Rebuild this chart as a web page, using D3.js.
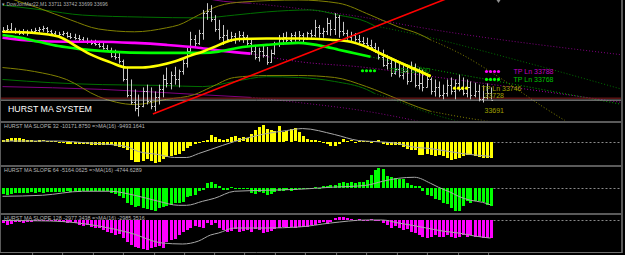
<!DOCTYPE html>
<html>
<head>
<meta charset="utf-8">
<script src="https://cdn.jsdelivr.net/npm/d3@7"></script>
<style>
body { margin: 0; background: #000; }
svg { display: block; }
</style>
</head>
<body>
<svg></svg>
<script>
const width = 625
const height = 255

// price bars (one per minute)
const highs = [33900,33905,33910,33898,33893,33895,33893,33895,33898,33900,
    33903,33900,33893,33890,33888,33890,33888,33885,33883,33880,
    33875,33873,33868,33868,33865,33860,33855,33848,33843,33838,
    33818,33800,33768,33743,33730,33748,33755,33748,33738,33755,
    33780,33798,33788,33800,33793,33818,33848,33888,33880,33893,
    33943,33960,33955,33930,33918,33905,33893,33888,33885,33890,
    33888,33880,33868,33855,33848,33855,33850,33843,33863,33880,
    33885,33888,33885,33888,33890,33885,33888,33893,33918,33905,
    33898,33923,33918,33935,33930,33913,33893,33888,33885,33880,
    33875,33873,33868,33860,33850,33843,33830,33823,33818,33813,
    33810,33805,33813,33808,33798,33793,33780,33773,33768,33763,
    33755,33768,33773,33768,33780,33773,33768,33763,33760,33755,
    33753,33758,33748]
const lows = [33885,33885,33885,33883,33880,33880,33878,33883,33885,33885,
    33888,33885,33880,33875,33875,33878,33873,33870,33868,33865,
    33863,33858,33855,33853,33848,33843,33838,33823,33818,33808,
    33763,33723,33705,33688,33675,33698,33705,33693,33688,33705,
    33723,33748,33743,33755,33748,33780,33798,33838,33848,33855,
    33868,33918,33913,33888,33868,33855,33863,33863,33858,33863,
    33860,33853,33830,33818,33813,33823,33805,33810,33830,33850,
    33855,33860,33858,33863,33865,33860,33868,33873,33875,33873,
    33873,33880,33878,33880,33873,33878,33868,33863,33863,33858,
    33853,33848,33843,33835,33818,33800,33793,33775,33780,33773,
    33768,33755,33763,33748,33743,33738,33748,33730,33725,33723,
    33718,33725,33730,33718,33738,33728,33723,33718,33723,33713,
    33710,33718,33718]
const closes = [33892,33895,33890,33888,33885,33887,33884,33890,33893,33895,
    33897,33890,33885,33880,33882,33884,33878,33876,33872,33870,
    33866,33862,33860,33857,33852,33848,33842,33828,33825,33815,
    33770,33730,33712,33695,33700,33740,33715,33700,33725,33745,
    33770,33760,33780,33770,33790,33810,33840,33870,33860,33885,
    33935,33940,33920,33895,33875,33880,33870,33878,33870,33880,
    33875,33860,33840,33825,33840,33830,33812,33835,33860,33870,
    33875,33868,33880,33872,33880,33870,33885,33880,33900,33885,
    33890,33910,33895,33925,33890,33885,33875,33880,33870,33865,
    33860,33855,33850,33840,33825,33805,33810,33785,33795,33780,
    33790,33765,33800,33755,33760,33750,33770,33740,33750,33730,
    33735,33755,33740,33760,33745,33735,33750,33728,33740,33720,
    33725,33735,33716]
const firstOpen = 33890

// Hurst moving averages on the price chart: [bar, price]
const yellowMa = [[0,33888],[8,33885],[14,33876],[19,33848],[22,33831],[27,33811],[31,33798],[35,33798],
    [39,33803],[43,33813],[47,33828],[50,33838],[53,33850],[56,33863],[59,33870],[66,33871],[74,33871],
    [82,33868],[87,33863],[91,33850],[96,33826],[101,33803],[104,33790],[107,33776]]
const greenMa = [[0,33880],[4,33874],[9,33863],[14,33852],[19,33845],[27,33838],[37,33835],[45,33835],
    [50,33835],[54,33838],[59,33848],[66,33855],[74,33860],[81,33850],[84,33843],[88,33834],[92,33825]]
const magentaMa = [[0,33873],[8,33865],[16,33863],[24,33863],[33,33860],[41,33855],[49,33848],[55,33840],[62,33833]]
const magentaMaProj = [[62,33833],[74,33813],[91,33798],[104,33780],[130,33745],[155,33710]]
const greenMaProj = [[92,33825],[104,33800],[130,33752],[155,33705]]

// envelope bands: [bar, price], solid part then projected (dotted) part
const oliveUp = [[0,33980],[3,33968],[9,33948],[17,33918],[24,33895],[33,33888],[41,33898],[44,33905],
    [49,33930],[54,33953],[60,33963],[74,33968],[84,33960],[92,33930],[99,33900],[104,33883],[107,33868]]
const oliveUpProj = [[107,33868],[115,33830],[125,33768],[135,33700],[145,33638]]
const oliveDn = [[0,33798],[8,33788],[16,33768],[24,33725],[33,33705],[41,33718],[48,33730],[52,33748],
    [58,33773],[66,33778],[74,33778],[83,33773],[91,33750],[99,33718],[104,33698],[107,33688]]
const oliveDnProj = [[107,33688],[120,33665],[130,33653]]
const greenUp = [[0,33955],[10,33943],[20,33930],[35,33925],[50,33923],[58,33930],[66,33938],[77,33943],
    [84,33930],[91,33913],[93,33903]]
const greenUpProj = [[93,33903],[104,33880],[130,33813],[155,33743]]
const greenDn = [[0,33768],[12,33760],[25,33755],[40,33753],[50,33750],[58,33763],[66,33775],[74,33773],
    [83,33763],[91,33743],[93,33733]]
const greenDnProj = [[93,33733],[99,33713],[104,33693],[117,33655]]
const purpleUp = [[45,33988],[53,33968],[62,33960]]
const purpleUpProj = [[62,33960],[77,33943],[90,33925],[102,33903],[155,33830]]
const purpleDn = [[0,33750],[25,33743],[49,33730],[62,33723]]
const purpleDnProj = [[62,33723],[74,33710],[91,33688],[104,33663]]

// trend line and price lines
const trendLine = [[37.6,33681],[115,33987]]
const askPrice = 33721
const bidPrice = 33716

// take profit markers
const tpPrices = [33788, 33768, 33746, 33790]
const tpBars = [[121,122,123,124],[121,122,123,124],[113,114,115,116],[90,91,92,93]]
const tpTexts = ["TP Ln 33788", "TP Ln 33768", "TP Ln 33746", "TP Sh 33790"]
const levelPrices = [33728, 33691]

// Hurst MA slope histograms (one value per bar) and their MA(16)
const slope32 = [1280,1920,1950,2560,2500,1900,1300,1250,640,1200,
    700,650,600,320,-640,-600,-1280,-1250,-1300,-1200,
    -1280,-1350,-1900,-1920,-2000,-1900,-1950,-2100,-2560,-3200,
    -3850,-5100,-11500,-12800,-12900,-12200,-10900,-12100,-13400,-12800,
    -10900,-9600,-9000,-8300,-7700,-5800,-3800,-2600,-1300,-640,
    640,1300,4500,3200,1900,1300,1900,3200,3250,2560,
    2600,2500,5100,7700,9600,10900,8300,7700,7000,10200,
    6400,6500,8300,8400,6400,3850,1900,1300,1250,640,
    -640,-1300,-2560,-2600,-1280,1900,640,700,-640,600,
    650,320,-640,640,1280,-1300,-1900,-1950,-1900,-2000,
    -3200,-4500,-5100,-5200,-8300,-8400,-7700,-8300,-9000,-8300,
    -9000,-10200,-11500,-10900,-10200,-9000,-8300,-8400,-9000,-9600,
    -10200,-10300,-10171.875]
const slope32Ma = [[0,320],[14,320],[20,-640],[27,-1900],[31,-3200],[34,-6400],[39,-8300],[43,-10200],
    [46,-10200],[49,-7700],[52,-5100],[58,0],[66,5100],[71,7000],[75,8300],[83,4500],[89,640],[93,0],
    [99,-1300],[102,-3200],[107,-4500],[115,-7700],[122,-9493.1641]]

const slope64 = [-1720,-2010,-1720,-1430,-1440,-1430,-1450,-1150,-1430,-1150,
    -1440,-1150,-1140,-1150,-1160,-1150,-860,-1150,-860,-1150,
    -860,-870,-860,-850,-860,-870,-860,-1430,-1720,-2300,
    -2870,-4300,-4880,-5450,-5170,-5740,-6030,-6310,-6600,-5740,
    -5450,-5170,-4880,-4300,-4310,-4020,-2580,-2300,-2010,-860,
    -570,1430,1720,1150,570,-570,-580,290,-290,-280,
    -290,-300,-1430,-1720,-1150,-1430,-2010,-1720,-1150,-860,
    -870,-570,-860,-580,-290,140,-140,150,290,-290,
    570,580,860,870,1430,1720,1440,1720,1430,1720,
    1730,2300,3730,5160,5740,5450,3440,3160,2870,2580,
    2580,1430,860,570,580,-860,-2010,-2300,-3160,-3440,
    -4300,-4590,-5740,-6600,-6590,-5160,-3730,-4300,-3730,-3740,
    -4020,-4880,-5164.0625]
const slope64Ma = [[0,-2300],[10,-2000],[20,-860],[27,-860],[33,-2000],[39,-3730],[44,-4880],[46,-4880],
    [50,-3730],[53,-2870],[58,-860],[66,-570],[74,-290],[82,290],[91,860],[95,2000],[99,2870],[103,3160],
    [107,1430],[109,290],[112,-1150],[114,-2300],[117,-3440],[120,-4020],[122,-4744.6289]]

const slope128 = [-500,-830,-660,-330,-340,-500,-330,-320,-170,-160,
    -170,-165,-170,-160,-330,-340,-500,-330,-490,-830,
    -990,-820,-1150,-1320,-1330,-1650,-1980,-2150,-2480,-2310,
    -2970,-3630,-4130,-4460,-4620,-4790,-4950,-4620,-4460,-4290,
    -4620,-3630,-3300,-3140,-2480,-1980,-1650,-1320,-990,-1150,
    -1320,-500,-830,-500,-1320,-1650,-1980,-1820,-1490,-1980,
    -1820,-1650,-1980,-1490,-1650,-2150,-1980,-1820,-1490,-1320,
    -1150,-1320,-1160,-1320,-1150,-1160,-1150,-830,-820,-500,
    -330,-660,-330,330,500,490,330,170,-170,160,
    80,-165,165,80,-170,-500,-830,-1320,-990,-1320,
    -1650,-1490,-1980,-2150,-2480,-2810,-2970,-2800,-2480,-2810,
    -2800,-2480,-2810,-2970,-2810,-2480,-2800,-2470,-2810,-2800,
    -2960,-2980,-2977.3438]
const slope128Ma = [[0,-80],[12,-165],[24,-990],[32,-2150],[40,-3800],[45,-3960],[49,-3470],[52,-2480],
    [54,-2150],[58,-1320],[66,-1320],[74,-1160],[82,-500],[91,0],[95,0],[99,-500],[102,-830],[106,-1320],
    [110,-1820],[114,-2150],[118,-2640],[122,-2985.3516]]

const panelTitles = [
    "HURST MA SLOPE 32 -10171.8750  =>MA(16) -9493.1641",
    "HURST MA SLOPE 64 -5164.0625  =>MA(16) -4744.6289",
    "HURST MA SLOPE 128 -2977.3438  =>MA(16) -2985.3516"]
const chartTitle = "DowJonMar22,M1  33711 33742 33699 33696"

// time axis ticks (bar positions)
const timeTicks = [7.4,14.9,22.6,30.1,37.9,45.4,52.9,60.4,68.1,75.6,83.4,90.9,98.6,106.1,113.9,121.4]

const font = "'Liberation Sans', Arial, sans-serif"
const right = 621

const svg = d3.select("svg")
    .attr("width", width)
    .attr("height", height)
    .style("background", "#000")

// Scales
const x = d3.scaleLinear().domain([0, 122]).range([2.5, 490.5])
const yMain = d3.scaleLinear().domain([33666, 33968]).range([120, 0])
const y32 = d3.scaleLinear().domain([-15000, 12500]).range([165, 122])
const y64 = d3.scaleLinear().domain([-6800, 6100]).range([212, 167])
const y128 = d3.scaleLinear().domain([-5115, 825]).range([251, 215])

const defs = svg.append("defs")
const clip = (id, y0, y1) => {
    defs.append("clipPath").attr("id", id)
        .append("rect").attr("x", 0).attr("y", y0).attr("width", right).attr("height", y1 - y0)
    return svg.append("g").attr("clip-path", `url(#${id})`)
}

// ---------- main price panel ----------
const main = clip("cMain", 0, 120.5)

const line = (ys) => d3.line().x(d => x(d[0])).y(d => ys(d[1])).curve(d3.curveMonotoneX)

const band = (data, color, w, dash) => {
    main.append("path").datum(data)
        .attr("d", line(yMain))
        .attr("fill", "none")
        .attr("stroke", color)
        .attr("stroke-width", w)
        .attr("stroke-dasharray", dash)
}

band(purpleUp, "#800080", 1, null)
band(purpleUpProj, "#800080", 1, "1,2")
band(purpleDn, "#800080", 1, null)
band(purpleDnProj, "#800080", 1, "1,2")
band(greenUp, "#007000", 1, null)
band(greenUpProj, "#007000", 1, "1,2")
band(greenDn, "#007000", 1, null)
band(greenDnProj, "#007000", 1, "1,2")
band(oliveUp, "#808000", 1, null)
band(oliveUpProj, "#808000", 1, "1,2")
band(oliveDn, "#808000", 1, null)
band(oliveDnProj, "#808000", 1, "1,2")
band(magentaMaProj, "#a000a0", 1, "1,2")
band(greenMaProj, "#00a000", 1, "1,2")

// ask / bid lines
main.append("line").attr("x1", 0).attr("x2", right)
    .attr("y1", yMain(askPrice)).attr("y2", yMain(askPrice))
    .attr("stroke", "#8b1c1c").attr("stroke-width", 1)
main.append("line").attr("x1", 0).attr("x2", right)
    .attr("y1", yMain(bidPrice)).attr("y2", yMain(bidPrice))
    .attr("stroke", "#a8a8a8").attr("stroke-width", 1)

// OHLC bars
const bars = main.append("g").attr("stroke", "#c8c8c8").attr("stroke-width", 1)
closes.forEach((c, i) => {
    const o = i === 0 ? firstOpen : closes[i - 1]
    const cx = Math.round(x(i)) + 0.5
    bars.append("line").attr("x1", cx).attr("x2", cx)
        .attr("y1", yMain(highs[i])).attr("y2", yMain(lows[i]))
    bars.append("line").attr("x1", cx - 1.5).attr("x2", cx)
        .attr("y1", Math.round(yMain(o)) + 0.5).attr("y2", Math.round(yMain(o)) + 0.5)
    bars.append("line").attr("x1", cx).attr("x2", cx + 1.5)
        .attr("y1", Math.round(yMain(c)) + 0.5).attr("y2", Math.round(yMain(c)) + 0.5)
})

band(magentaMa, "#ff00ff", 2.6, null)
band(greenMa, "#00ff00", 2.6, null)
band(yellowMa, "#ffff00", 2.6, null)

// trend line
main.append("path").datum(trendLine)
    .attr("d", d3.line().x(d => x(d[0])).y(d => yMain(d[1])))
    .attr("stroke", "#ff0000").attr("stroke-width", 1.6).attr("fill", "none")

// take profit dots and labels
const tpColors = ["#ff00ff", "#00ff00", "#ffff00", "#00ff00"]
const tpTextColors = ["#c000c0", "#00c000", "#a0a000", "#00a000"]
tpPrices.forEach((p, k) => {
    main.append("g").selectAll("circle").data(tpBars[k]).enter()
        .append("circle")
        .attr("cx", d => x(d))
        .attr("cy", yMain(p))
        .attr("r", 1.6)
        .attr("fill", tpColors[k])
    main.append("text")
        .attr("x", x(d3.max(tpBars[k])) + 15)
        .attr("y", yMain(p))
        .attr("dy", "0.35em")
        .attr("fill", tpTextColors[k])
        .attr("font-family", font)
        .attr("font-size", "7px")
        .text(tpTexts[k])
})
// put the short-side label behind the yellow ma again by redrawing the ma
band(yellowMa.filter(d => d[0] >= 91), "#ffff00", 2.6, null)

levelPrices.forEach(p => {
    main.append("text")
        .attr("x", x(120.5))
        .attr("y", yMain(p))
        .attr("dy", "0.35em")
        .attr("fill", "#a0a000")
        .attr("font-family", font)
        .attr("font-size", "7px")
        .text(p)
})

main.append("text")
    .attr("x", 8).attr("y", 112)
    .attr("fill", "#ffffff")
    .attr("font-family", font)
    .attr("font-size", "8.8px")
    .text("HURST MA SYSTEM")

// chart header
svg.append("text")
    .attr("x", 2).attr("y", 6)
    .attr("fill", "#b0b0b0")
    .attr("font-family", font)
    .attr("font-size", "5px")
    .text("\u25BE " + chartTitle)

// chart shift marker
svg.append("path")
    .attr("d", `M${x(124) - 2},0 L${x(124) + 2},0 L${x(124)},3 Z`)
    .attr("fill", "#909090")

// ---------- slope panels ----------
const panels = [
    { id: "c32", y0: 123, y1: 165, ys: y32, values: slope32, ma: slope32Ma, color: "#ffff00" },
    { id: "c64", y0: 167, y1: 213, ys: y64, values: slope64, ma: slope64Ma, color: "#00ff00" },
    { id: "c128", y0: 215, y1: 252, ys: y128, values: slope128, ma: slope128Ma, color: "#ff00ff" }
]

panels.forEach((p, k) => {
    const g = clip(p.id, p.y0, p.y1)

    g.append("text")
        .attr("x", 4).attr("y", p.y0 + 4.5)
        .attr("fill", "#b8b8b8")
        .attr("font-family", font)
        .attr("font-size", "5.4px")
        .text(panelTitles[k])

    // zero level after the last bar
    g.append("line")
        .attr("x1", x(p.values.length - 1) + 3).attr("x2", right)
        .attr("y1", Math.round(p.ys(0)) + 0.5).attr("y2", Math.round(p.ys(0)) + 0.5)
        .attr("stroke", "#8a8a8a").attr("stroke-dasharray", "2,2")

    g.append("g").selectAll("rect").data(p.values).enter()
        .append("rect")
        .attr("x", (d, i) => Math.round(x(i)) - 1)
        .attr("width", 3)
        .attr("y", d => Math.round(p.ys(Math.max(0, d))))
        .attr("height", d => Math.max(1, Math.round(Math.abs(p.ys(d) - p.ys(0)))))
        .attr("fill", p.color)
        .attr("shape-rendering", "crispEdges")

    g.append("path").datum(p.ma)
        .attr("d", line(p.ys))
        .attr("fill", "none")
        .attr("stroke", "#a8a8a8")
        .attr("stroke-width", 1)
})

// ---------- frame ----------
const frame = svg.append("g").attr("fill", "#5a5a5a").attr("shape-rendering", "crispEdges")
frame.append("rect").attr("x", 0).attr("y", 121).attr("width", right + 2).attr("height", 2)
frame.append("rect").attr("x", 0).attr("y", 165).attr("width", right + 2).attr("height", 2)
frame.append("rect").attr("x", 0).attr("y", 213).attr("width", right + 2).attr("height", 2)
frame.append("rect").attr("x", right).attr("y", 0).attr("width", 1.5).attr("height", 253)
frame.append("rect").attr("x", 0).attr("y", 0).attr("width", 1).attr("height", 253)

// time axis
const xAxis = d3.axisBottom(x).tickValues(timeTicks).tickSize(3).tickFormat("")
const xAxisG = svg.append("g")
    .attr("transform", "translate(0, 252)")
    .call(xAxis)
xAxisG.select(".domain").attr("d", `M0,0.5H${right + 1}`).attr("stroke", "#707070")
xAxisG.selectAll(".tick line").attr("stroke", "#707070")
</script>
</body>
</html>
